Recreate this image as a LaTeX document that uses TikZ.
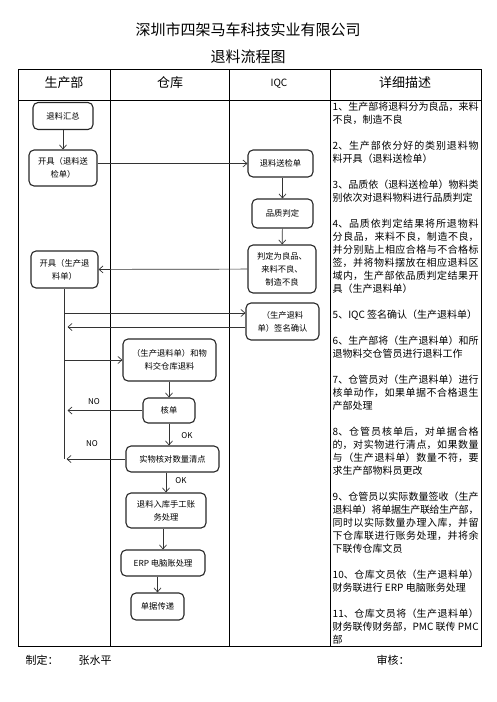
\documentclass[tikz,border=0pt]{standalone}
\usepackage{fontspec}
\usetikzlibrary{arrows.meta}
\setmainfont{Noto Sans CJK SC}
\XeTeXlinebreaklocale "zh"
\XeTeXlinebreakskip=0pt plus 2pt minus 0.8pt
\setlength{\parindent}{0pt}

\begin{document}
\begin{tikzpicture}[x=1pt, y=-1pt, auto,
		box_style/.style={draw=black!85, line width=1.1pt, rounded corners=5pt, inner sep=0pt, align=center, font=\fontsize{8.3}{13}\selectfont},
		edge_style/.style={draw=black!80, line width=0.7pt, -{Straight Barb[length=4pt,width=7pt]}},
		grid_style/.style={draw=black, line width=1pt},
		head_style/.style={font=\fontsize{13}{15}\selectfont},
		label_style/.style={font=\fontsize{8}{10}\selectfont},
		text_style/.style={anchor=north west, inner sep=0pt, text width=146pt, align=justify, font=\fontsize{10}{13}\selectfont}]

		\useasboundingbox (0,0) rectangle (496,702);

		% title
		\node[font=\fontsize{15}{17}\selectfont] (title) at (248,30) {深圳市四架马车科技实业有限公司};
		\node[font=\fontsize{15}{17}\selectfont] (subtitle) at (248,57) {退料流程图};

		% table
		\draw[grid_style] (18,69) rectangle (481,646);
		\draw[grid_style] (18,100) -- (481,100);
		\draw[grid_style] (110.5,69) -- (110.5,646);
		\draw[grid_style] (229,69) -- (229,646);
		\draw[grid_style] (330,69) -- (330,646);

		\node[head_style] (h0) at (64,83)  {生产部};
		\node[head_style] (h1) at (170,83) {仓库};
		\node[font=\fontsize{10}{12}\selectfont] (h2) at (279,84) {IQC};
		\node[head_style] (h3) at (405,83) {详细描述};

		% flow
		\node[box_style, minimum width=60pt, minimum height=27pt] (n1) at (63,116) {退料汇总};
		\node[box_style, minimum width=68pt, minimum height=36pt] (n2) at (63,168) {开具（退料送\\检单）};
		\node[box_style, minimum width=65pt, minimum height=27pt] (n3) at (280.5,163.5) {退料送检单};
		\node[box_style, minimum width=61pt, minimum height=29pt] (n4) at (282.5,213.5) {品质判定};
		\node[box_style, minimum width=68pt, minimum height=48pt] (n5) at (282,269) {判定为良品、\\来料不良、\\制造不良};
		\node[box_style, minimum width=67pt, minimum height=37pt] (n6) at (64.5,269.5) {开具（生产退\\料单）};
		\node[box_style, minimum width=73pt, minimum height=37pt] (n7) at (282.5,321.5) {（生产退料\\单）签名确认};
		\node[box_style, minimum width=93pt, minimum height=42pt] (n8) at (169.5,360) {（生产退料单）和物\\料交仓库退料};
		\node[box_style, minimum width=52pt, minimum height=25pt] (n9) at (169,410.5) {核单};
		\node[box_style, minimum width=93pt, minimum height=26pt] (n10) at (172.5,459) {实物核对数量清点};
		\node[box_style, minimum width=80pt, minimum height=35pt] (n11) at (166,510.5) {退料入库手工账\\务处理};
		\node[box_style, minimum width=84pt, minimum height=26pt] (n12) at (163,563) {ERP 电脑账处理};
		\node[box_style, minimum width=53pt, minimum height=27pt] (n13) at (157.5,606.5) {单据传递};

		\coordinate (s1) at ([yshift=8.5pt]n7.west);
		\coordinate (s2) at ([yshift=-5.5pt]n7.west);

		\draw[edge_style]  (n1) edge node{} (n2);
		\draw[edge_style]  (n2.east |- n3) -- (n3.west);
		\draw[edge_style]  (n3.south -| n4) -- (n4.north);
		\draw[edge_style]  (n4) edge node{} (n5);
		\draw[edge_style]  (n5) edge node{} (n6);
		\draw[draw=black!80, line width=0.7pt]  (n6.south) -- (n6.south |- n10.west);
		\draw[edge_style]  (s1 -| n6.south) -- (s1);
		\draw[edge_style, shorten >=3pt]  (s2) -- (s2 -| n6.south);
		\draw[edge_style]  (n8.west -| n6.south) -- (n8.west);
		\draw[edge_style]  (n8.south -| n9) -- (n9.north);
		\draw[edge_style, shorten >=3pt]  (n9.west) -- (n9.west -| n6.south);
		\draw[edge_style]  (n9.south) -- (n9.south |- n10.north);
		\draw[edge_style, shorten >=2pt]  (n10.west) -- (n10.west -| n6.south);
		\draw[edge_style]  (n10.south -| n11) -- (n11.north);
		\draw[edge_style]  (n11.south -| n12) -- (n12.north);
		\draw[edge_style]  (n12.south -| n13) -- (n13.north);

		\node[label_style] (no1) at (94,402) {NO};
		\node[label_style] (no2) at (92,444) {NO};
		\node[label_style] (ok1) at (187,436) {OK};
		\node[label_style] (ok2) at (181,481) {OK};

		% description
		\node[text_style] (d1) at (332.5,101.5) {1、生产部将退料分为良品，来料\linebreak 不良，制造不良};
		\node[text_style] (d2) at (332.5,140.5) {2、生产部依分好的类别退料物\linebreak 料开具（退料送检单）};
		\node[text_style] (d3) at (332.5,179.5) {3、品质依（退料送检单）物料类\linebreak 别依次对退料物料进行品质判定};
		\node[text_style] (d4) at (332.5,218.5) {4、品质依判定结果将所退物料\linebreak 分良品，来料不良，制造不良，\linebreak 并分别贴上相应合格与不合格标\linebreak 签，并将物料摆放在相应退料区\linebreak 域内，生产部依品质判定结果开\linebreak 具（生产退料单）};
		\node[text_style] (d5) at (332.5,310) {5、IQC 签名确认（生产退料单）};
		\node[text_style] (d6) at (332.5,336) {6、生产部将（生产退料单）和所\linebreak 退物料交仓管员进行退料工作};
		\node[text_style] (d7) at (332.5,375) {7、仓管员对（生产退料单）进行\linebreak 核单动作，如果单据不合格退生\linebreak 产部处理};
		\node[text_style] (d8) at (332.5,427) {8、仓管员核单后，对单据合格\linebreak 的，对实物进行清点，如果数量\linebreak 与（生产退料单）数量不符，要\linebreak 求生产部物料员更改};
		\node[text_style] (d9) at (332.5,492) {9、仓管员以实际数量签收（生产\linebreak 退料单）将单据生产联给生产部，\linebreak 同时以实际数量办理入库，并留\linebreak 下仓库联进行账务处理，并将余\linebreak 下联传仓库文员};
		\node[text_style] (d10) at (332.5,570) {10、仓库文员依（生产退料单）\linebreak 财务联进行 ERP 电脑账务处理};
		\node[text_style] (d11) at (332.5,609) {11、仓库文员将（生产退料单）\linebreak 财务联传财务部，PMC 联传 PMC\linebreak 部};

		% footer
		\node[anchor=west, font=\fontsize{11}{13}\selectfont] (f1) at (22,660) {制定：};
		\node[anchor=west, font=\fontsize{11}{13}\selectfont] (f2) at (75,660) {张水平};
		\node[anchor=west, font=\fontsize{11}{13}\selectfont] (f3) at (373,660) {审核：};
\end{tikzpicture}
\end{document}
